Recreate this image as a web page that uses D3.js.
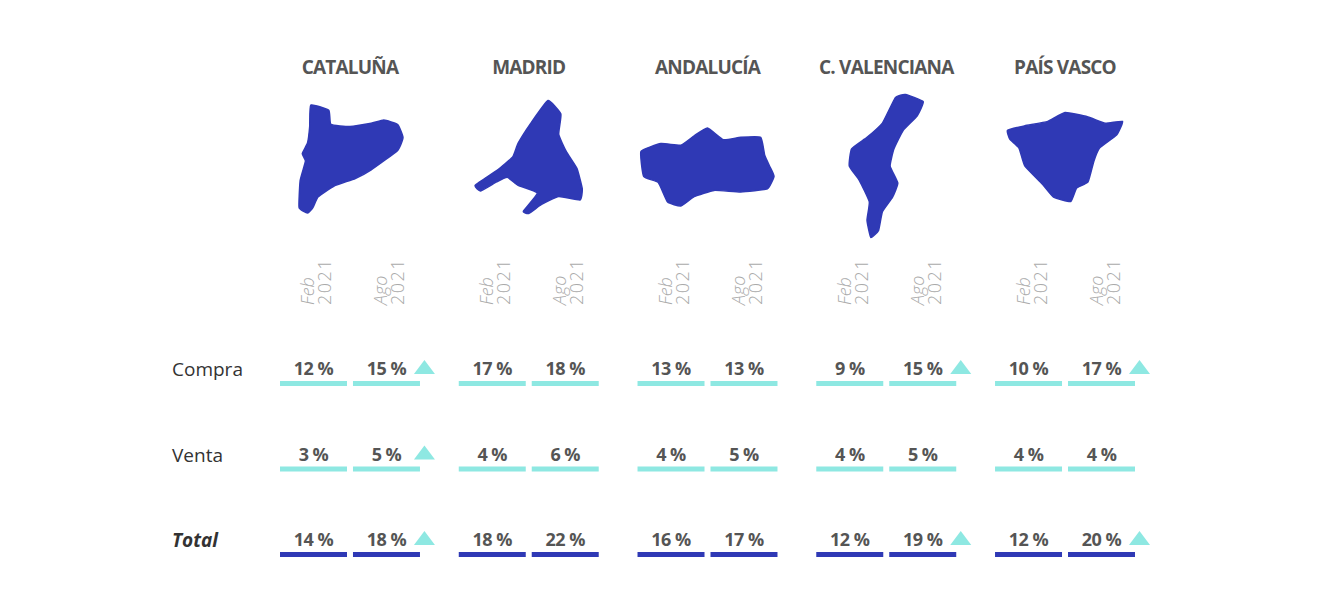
<!DOCTYPE html>
<html><head><meta charset="utf-8">
<script src="https://cdn.jsdelivr.net/npm/d3@7"></script>
<style>body{margin:0;background:#fff;font-family:"Open Sans",sans-serif}</style>
</head><body><div id="chart"></div>
<script>
const regions = ["CATALUÑA", "MADRID", "ANDALUCÍA", "C. VALENCIANA", "PAÍS VASCO"];
const periods = ["Feb|2021", "Ago|2021"];
const rows = ["Compra", "Venta", "Total"];
// values [feb, ago] per region
const compra = [[12, 15], [17, 18], [13, 13], [9, 15], [10, 17]];
const venta = [[3, 5], [4, 6], [4, 5], [4, 5], [4, 4]];
const total = [[14, 18], [18, 22], [16, 17], [12, 19], [12, 20]];
// significant rise markers shown next to Ago value
const upCompra = [true, false, false, true, true];
const upVenta = [true, false, false, false, false];
const upTotal = [true, false, false, true, true];

// rough region outlines in a unit box: [w, h, points]
const outlines = [
  [106, 108, [[.13,0],[.3,.05],[.32,.18],[.5,.2],[.7,.17],[.82,.14],[.95,.18],[1,.3],[.95,.42],[.7,.6],[.55,.68],[.35,.75],[.2,.85],[.15,.95],[.1,1],[.02,.95],[.03,.7],[.08,.52],[.05,.45],[.1,.35],[.12,.2]]],
  [107, 113, [[.68,0],[.8,.12],[.78,.3],[.85,.45],[.95,.6],[1,.78],[.98,.88],[.78,.85],[.62,.92],[.5,1],[.45,.98],[.58,.82],[.4,.75],[.3,.68],[.2,.72],[.05,.8],[0,.75],[.2,.62],[.35,.5],[.4,.38],[.52,.2]]],
  [133, 78, [[0,.3],[.15,.2],[.3,.22],[.4,.1],[.5,0],[.62,.15],[.75,.12],[.9,.12],[.93,.35],[.97,.5],[1,.62],[.95,.78],[.75,.82],[.55,.8],[.4,.88],[.3,1],[.2,.95],[.13,.7],[.02,.62]]],
  [77, 143, [[.62,.02],[.75,0],[.98,.05],[.9,.15],[.72,.25],[.6,.38],[.55,.5],[.65,.62],[.58,.72],[.45,.82],[.4,.95],[.3,1],[.25,.88],[.28,.75],[.15,.6],[.02,.5],[.05,.38],[.25,.3],[.45,.2]]],
  [115, 89, [[0,.2],[.15,.15],[.35,.1],[.5,0],[.7,.05],[.85,.12],[1,.1],[.95,.25],[.8,.4],[.75,.55],[.7,.78],[.6,.85],[.55,1],[.4,.95],[.3,.8],[.15,.6],[.1,.4],[.02,.3]]]
];
const mapCenterY = [159, 157, 167, 166, 157];

const width = 1336, height = 612;
const svg = d3.select("#chart").append("svg").attr("width", width).attr("height", height);

const x = d3.scaleBand().domain(regions).range([280, 1135]).paddingInner(0.217);
const xi = d3.scaleBand().domain(periods).range([0, x.bandwidth()]).paddingInner(0.082);
const rowY = d3.scalePoint().domain(rows).range([368, 539]);
const lightC = "#8ee8e2", darkC = "#2f39b5", textC = "#555";
const data = {Compra: compra, Venta: venta, Total: total};
const ups = {Compra: upCompra, Venta: upVenta, Total: upTotal};

// row labels
svg.selectAll("text.row").data(rows).join("text")
  .attr("x", 172).attr("y", d => rowY(d) + 8)
  .attr("font-size", 19).attr("fill", "#333")
  .attr("font-weight", d => d === "Total" ? 700 : 400)
  .attr("font-style", d => d === "Total" ? "italic" : "normal")
  .text(d => d);

const line = d3.line().curve(d3.curveCardinalClosed.tension(0.6));

regions.forEach((r, ri) => {
  const g = svg.append("g").attr("transform", `translate(${x(r)},0)`);
  const cx = x.bandwidth() / 2;
  g.append("text").attr("x", cx).attr("y", 74).attr("text-anchor", "middle")
    .attr("font-size", 19).attr("font-weight", 700).attr("fill", textC)
    .attr("letter-spacing", -0.8).text(r);

  const [w, h, pts] = outlines[ri];
  const sx = d3.scaleLinear().domain([0, 1]).range([cx - w / 2, cx + w / 2]);
  const sy = d3.scaleLinear().domain([0, 1]).range([mapCenterY[ri] - h / 2, mapCenterY[ri] + h / 2]);
  g.append("path").attr("d", line(pts.map(p => [sx(p[0]), sy(p[1])])))
    .attr("fill", darkC).attr("stroke", darkC).attr("stroke-width", 1.5).attr("stroke-linejoin", "round");

  periods.forEach(p => {
    const px = xi(p) + xi.bandwidth() / 2;
    const [a, b] = p.split("|");
    const t = g.append("text").attr("transform", `translate(${px + 3},305) rotate(-90)`)
      .attr("font-size", 18).attr("fill", "#aaa").attr("font-weight", 300);
    t.append("tspan").attr("x", 0).attr("y", -2).attr("font-style", "italic").text(a);
    t.append("tspan").attr("x", 0).attr("y", 15).attr("letter-spacing", 1.5).text(b);
  });

  rows.forEach(row => {
    const vals = data[row][ri];
    const col = row === "Total" ? darkC : lightC;
    periods.forEach((p, pi) => {
      const px = xi(p) + xi.bandwidth() / 2;
      g.append("text").attr("x", px).attr("y", rowY(row) + 7).attr("text-anchor", "middle")
        .attr("font-size", 18).attr("font-weight", 700).attr("fill", textC).attr("letter-spacing", -0.5)
        .text(vals[pi] + " %");
      g.append("rect").attr("x", xi(p)).attr("y", rowY(row) + 13)
        .attr("width", xi.bandwidth()).attr("height", 5).attr("fill", col);
    });
    if (ups[row][ri]) {
      const tx = xi(periods[1]) + xi.bandwidth() - 6, ty = rowY(row) + 6;
      g.append("path").attr("d", `M${tx},${ty} L${tx + 21},${ty} L${tx + 10.5},${ty - 14} Z`).attr("fill", lightC);
    }
  });
});
</script></body></html>
